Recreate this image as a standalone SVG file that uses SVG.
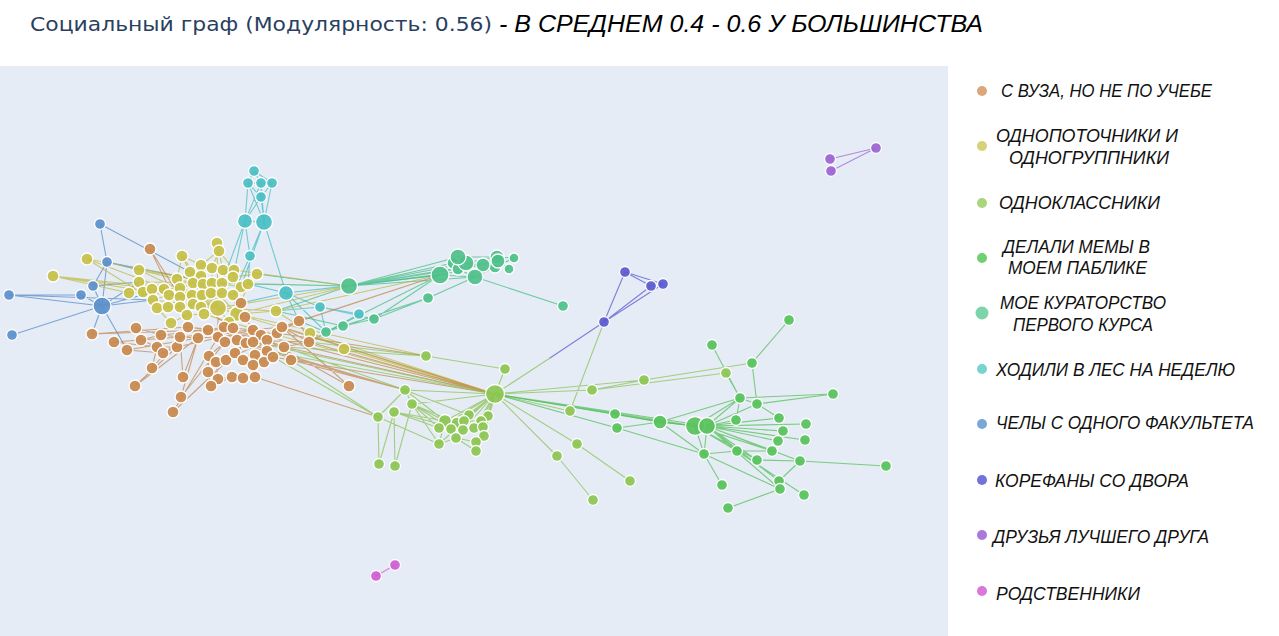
<svg xmlns="http://www.w3.org/2000/svg" width="1279" height="636" viewBox="0 0 1279 636">
<style>
.e{fill:none;stroke-width:1.1;stroke-opacity:.7;stroke-linecap:round}
.eb{stroke:#4f86c6}.ec{stroke:#40bcc0}.ek{stroke:#3dbb7e}.ey{stroke:#bdb639}.eo{stroke:#c18347}.el{stroke:#86c14c}.eg{stroke:#4cbd50}.ei{stroke:#5050cc}.ep{stroke:#9a5fd0}.em{stroke:#c95ac9}
.n circle{stroke:#fff;stroke-width:1.3;fill-opacity:.92}
.br{fill:#c9894e}.ye{fill:#c6c048}.lg{fill:#8cc552}.gr{fill:#57c25b}.ku{fill:#4fc08a}.cy{fill:#4bbfc3}.bl{fill:#5b8fcb}.in{fill:#5a5acf}.pu{fill:#9c63d3}.pi{fill:#cf5ccf}
.lt{font-family:"Liberation Sans",Arial,sans-serif;font-style:italic;font-size:18px;fill:#111}
</style>
<rect x="0" y="0" width="1279" height="636" fill="#fff"/>
<rect x="0" y="66" width="948" height="570" fill="#e5ecf6"/>
<text x="30" y="31" font-family="'DejaVu Sans','Open Sans',sans-serif" font-size="20" fill="#2a3f5f" textLength="462" lengthAdjust="spacingAndGlyphs">Социальный граф (Модулярность: 0.56)</text>
<text x="499" y="32" font-family="'Liberation Sans',Arial,sans-serif" font-style="italic" font-size="23" fill="#000" textLength="484" lengthAdjust="spacingAndGlyphs">- В СРЕДНЕМ 0.4 - 0.6 У БОЛЬШИНСТВА</text>

<g id="connectors">
<path class="e eb" d="M102,306L9,295M102,306L12,335M102,306L107,262M102,306L93,286M102,306L81,295M100,224L107,262M107,262L93,286M100,224L190,272M107,262L139,270M9,295L81,295M102,306L164,289M102,306L139,282M102,306L153,300M102,306L92,334M102,306L127,350M93,286L139,282M9,295L153,300M107,262L212,283"/>
<path class="e ec" d="M254,171L248,183M254,171L261,183M254,171L272,183M248,183L261,197M261,183L261,197M272,183L261,197M248,183L261,183M261,183L272,183M248,183L245,221M248,183L264,222M261,183L245,221M261,183L264,222M272,183L264,222M261,197L245,221M261,197L264,222M245,221L264,222M245,221L250,256M264,222L250,256M264,222L286,293M245,221L222,283M245,221L233,277M264,222L241,287M250,256L233,295M250,256L248,284M286,293L320,307M320,307L359,314M286,293L241,303M286,293L299,321M286,293L248,284M320,307L276,311M359,314L309,342M320,307L374,319M286,293L349,286M286,293L440,275M286,293L326,332M320,307L326,332"/>
<path class="e ek" d="M349,286L453,263M349,286L458,257M349,286L466,263M349,286L458,269M349,286L440,275M349,286L475,277M349,286L483,265M349,286L497,257M349,286L495,267M349,286L498,261M349,286L276,311M349,286L222,283M349,286L248,284M349,286L257,274M374,319L428,298M428,298L475,277M343,326L428,298M326,332L428,298M374,319L440,275M326,332L440,275M475,277L563,306M458,257L466,263M466,263L475,277M483,265L497,257M497,257L498,261M498,261L509,269M495,267L514,258M458,257L497,257M440,275L475,277M453,263L483,265M466,263L483,265M475,277L495,267M458,269L475,277M483,265L498,261M497,257L514,258M326,332L343,326M343,326L374,319M326,332L299,321M343,326L276,311"/>
<path class="e ey" d="M217,243L219,251M219,251L201,265M219,251L212,268M219,251L234,270M217,243L223,270M182,256L201,265M182,256L190,272M182,256L177,279M201,265L201,276M201,265L212,268M87,259L153,300M87,259L241,287M87,259L218,308M53,276L152,289M53,276L233,295M53,276L180,297M139,270L177,279M139,270L241,287M139,270L193,283M139,282L164,289M139,282L212,283M129,293L143,292M143,292L152,289M152,289L164,289M190,272L193,283M190,272L201,276M201,276L203,284M212,268L212,283M223,270L234,270M223,270L222,283M234,270L233,277M233,277L241,287M257,274L248,284M257,274L233,277M177,279L180,288M164,289L169,295M180,288L193,283M180,288L180,297M193,283L203,284M203,284L212,283M212,283L222,283M222,283L222,293M241,287L248,284M241,287L233,295M248,284L237,314M153,300L169,295M153,300L157,308M169,295L180,297M169,295L168,307M180,297L192,295M180,297L180,307M192,295L202,295M192,295L193,304M202,295L211,293M202,295L201,307M211,293L222,293M211,293L218,308M222,293L233,295M233,295L237,314M157,308L168,307M168,307L180,307M180,307L193,304M193,304L201,307M201,307L218,308M218,308L237,314M187,315L204,314M193,304L187,315M204,314L229,322M218,308L229,322M171,323L157,308M171,323L187,315M237,314L276,311M218,308L276,311M276,311L310,333M310,333L344,349M217,243L218,308M182,256L218,308M190,272L218,308M177,279L218,308M193,283L218,308M139,270L218,308M152,289L218,308M212,283L218,308M201,276L237,314M234,270L237,314M164,289L237,314M180,288L218,308M153,300L218,308M218,308L349,286M237,314L349,286M276,311L440,275M237,314L495,394M229,322L495,394M310,333L495,394M344,349L495,394M237,314L426,356M234,270L349,286M53,276L129,293"/>
<path class="e eo" d="M150,249L180,297M241,303L233,328M241,303L245,317M241,303L237,314M299,321L282,327M299,321L277,333M299,321L309,342M136,328L141,340M136,328L161,335M92,334L188,327M92,334L208,330M114,342L180,337M114,342L157,347M127,350L163,353M127,350L198,338M141,340L161,335M141,340L157,347M157,347L163,353M157,347L177,347M163,353L177,347M177,347L180,337M161,335L180,337M180,337L188,327M180,337L198,338M188,327L208,330M198,338L208,330M198,338L218,337M208,330L218,337M208,330L224,327M218,337L224,327M218,337L225,342M224,327L233,328M233,328L237,340M233,328L253,330M225,342L237,340M237,340L246,343M246,343L253,330M246,343L253,342M253,330L261,335M261,335L267,340M261,335L277,333M253,342L267,340M267,340L284,347M277,333L282,327M282,327L309,342M284,347L309,342M284,347L291,360M245,317L253,330M245,317L224,327M225,342L209,356M209,356L216,362M216,362L226,360M226,360L235,353M235,353L243,360M243,360L255,355M255,355L267,351M267,351L273,357M264,362L273,357M264,362L255,355M273,357L291,360M208,372L218,379M218,379L232,377M232,377L243,378M243,378L255,377M255,377L253,365M253,365L255,355M208,372L209,356M218,379L216,362M211,386L208,372M211,386L232,377M152,368L157,347M152,368L180,337M183,377L180,337M183,377L198,338M135,386L177,347M135,386L208,330M181,397L198,338M181,397L225,342M173,412L218,337M173,412L246,343M349,386L282,327M349,386L267,340M208,330L267,340M188,327L261,335M180,337L282,327M218,337L284,347M198,338L277,333M177,347L253,330M161,335L233,328M237,340L309,342M225,342L267,351M226,360L267,340M216,362L261,335M243,360L282,327M282,327L495,394M309,342L495,394M284,347L495,394M299,321L440,275M282,327L440,275M255,377L378,417M291,360L405,390M267,351L405,390M273,357L495,394M150,249L188,327M218,337L218,308M233,328L201,307M261,335L495,394M277,333L426,356M246,343L405,390"/>
<path class="e el" d="M426,356L284,347M426,356L505,369M505,369L495,394M495,394L405,390M405,390L378,417M405,390L412,404M394,412L379,464M394,412L395,466M412,404L395,466M378,417L379,464M291,360L378,417M284,347L405,390M309,342L426,356M273,357L378,417M412,404L495,394M495,394L592,390M495,394L644,380M495,394L570,411M495,394L577,444M495,394L557,456M577,444L630,481M557,456L593,500M592,390L726,373M644,380L752,363M592,390L644,380M495,394L445,421M495,394L439,428M495,394L451,429M495,394L439,444M495,394L456,438M495,394L469,415M495,394L464,421M495,394L488,416M495,394L481,421M495,394L463,430M495,394L474,428M495,394L483,427M495,394L476,442M495,394L484,436M495,394L476,451M495,394L457,423M412,404L445,421M412,404L439,428M412,404L457,423M412,404L451,429M412,404L439,444M394,412L445,421M394,412L439,428M405,390L445,421M378,417L439,444M394,412L463,430M405,390L469,415M445,421L457,423M439,428L451,429M451,429L463,430M439,444L456,438M456,438L476,442M469,415L464,421M464,421L481,421M481,421L488,416M474,428L483,427M476,442L484,436M476,451L476,442M457,423L464,421M463,430L474,428M445,421L439,444M456,438L476,451M484,436L483,427M451,429L456,438M570,411L604,322M267,351L495,394M253,342L495,394"/>
<path class="e eg" d="M789,320L752,363M712,345L740,398M726,373L740,398M752,363L757,404M740,398L707,426M740,398L695,426M740,398L736,420M740,398L757,404M757,404L779,418M757,404L707,426M740,398L660,422M740,398L833,394M757,404L833,394M707,426L736,420M707,426L779,418M707,426L806,424M707,426L783,431M707,426L778,441M707,426L805,440M707,426L772,451M707,426L737,451M707,426L757,460M707,426L800,461M707,426L779,481M707,426L780,489M707,426L704,454M695,426L660,422M695,426L704,454M695,426L737,451M695,426L772,451M695,426L757,460M660,422L615,414M660,422L617,428M660,422L704,454M617,428L704,454M704,454L722,485M704,454L780,489M704,454L737,451M800,461L886,466M800,461L779,481M780,489L728,508M804,495L737,451M772,451L737,451M757,460L800,461M495,394L615,414M495,394L617,428M495,394L695,426M495,394L707,426M615,414L695,426"/>
<path class="e eg" stroke-width="2.6" d="M495,394L660,422M660,422L695,426"/>
<path class="e ei" d="M625,272L651,286M625,272L663,284M651,286L663,284M604,322L625,272M604,322L651,286M604,322L663,284M604,322L550,358"/>
<path class="e el" d="M550,358L495,394"/>
<path class="e ep" d="M876,148L830,159M876,148L831,171"/>
<path class="e em" d="M395,565L376,576"/>
</g>

<g class="n">
<g id="blue-1"><circle class="bl" cx="100" cy="224" r="5.5"/></g>
<g id="blue-2"><circle class="bl" cx="107" cy="262" r="5.5"/></g>
<g id="blue-3"><circle class="bl" cx="93" cy="286" r="5.5"/></g>
<g id="blue-4"><circle class="bl" cx="81" cy="295" r="5.5"/></g>
<g id="blue-5"><circle class="bl" cx="9" cy="295" r="5.5"/></g>
<g id="blue-6"><circle class="bl" cx="102" cy="306" r="9"/></g>
<g id="blue-7"><circle class="bl" cx="12" cy="335" r="5.5"/></g>

<g id="cyan-1"><circle class="cy" cx="254" cy="171" r="5.5"/></g>
<g id="cyan-2"><circle class="cy" cx="248" cy="183" r="5.5"/></g>
<g id="cyan-3"><circle class="cy" cx="261" cy="183" r="5.5"/></g>
<g id="cyan-4"><circle class="cy" cx="272" cy="183" r="5.5"/></g>
<g id="cyan-5"><circle class="cy" cx="261" cy="197" r="5.5"/></g>
<g id="cyan-6"><circle class="cy" cx="245" cy="221" r="7.5"/></g>
<g id="cyan-7"><circle class="cy" cx="264" cy="222" r="8.5"/></g>
<g id="cyan-8"><circle class="cy" cx="250" cy="256" r="5.5"/></g>
<g id="cyan-9"><circle class="cy" cx="286" cy="293" r="7.5"/></g>
<g id="cyan-10"><circle class="cy" cx="320" cy="307" r="5.5"/></g>
<g id="cyan-11"><circle class="cy" cx="359" cy="314" r="5.5"/></g>

<g id="yel-1"><circle class="ye" cx="217" cy="243" r="6"/></g>
<g id="yel-2"><circle class="ye" cx="219" cy="251" r="6"/></g>
<g id="yel-3"><circle class="ye" cx="182" cy="256" r="6"/></g>
<g id="yel-4"><circle class="ye" cx="201" cy="265" r="6"/></g>
<g id="yel-5"><circle class="ye" cx="87" cy="259" r="6"/></g>
<g id="yel-6"><circle class="ye" cx="53" cy="276" r="6"/></g>
<g id="yel-7"><circle class="ye" cx="139" cy="270" r="6"/></g>
<g id="yel-8"><circle class="ye" cx="139" cy="282" r="6"/></g>
<g id="yel-9"><circle class="ye" cx="129" cy="293" r="6"/></g>
<g id="yel-10"><circle class="ye" cx="143" cy="292" r="6"/></g>
<g id="yel-11"><circle class="ye" cx="152" cy="289" r="6"/></g>
<g id="yel-12"><circle class="ye" cx="190" cy="272" r="6"/></g>
<g id="yel-13"><circle class="ye" cx="201" cy="276" r="6"/></g>
<g id="yel-14"><circle class="ye" cx="212" cy="268" r="6"/></g>
<g id="yel-15"><circle class="ye" cx="223" cy="270" r="6"/></g>
<g id="yel-16"><circle class="ye" cx="234" cy="270" r="6"/></g>
<g id="yel-17"><circle class="ye" cx="233" cy="277" r="6"/></g>
<g id="yel-18"><circle class="ye" cx="257" cy="274" r="6"/></g>
<g id="yel-19"><circle class="ye" cx="177" cy="279" r="6"/></g>
<g id="yel-20"><circle class="ye" cx="164" cy="289" r="6"/></g>
<g id="yel-21"><circle class="ye" cx="180" cy="288" r="6"/></g>
<g id="yel-22"><circle class="ye" cx="193" cy="283" r="6"/></g>
<g id="yel-23"><circle class="ye" cx="203" cy="284" r="6"/></g>
<g id="yel-24"><circle class="ye" cx="212" cy="283" r="6"/></g>
<g id="yel-25"><circle class="ye" cx="222" cy="283" r="6"/></g>
<g id="yel-26"><circle class="ye" cx="241" cy="287" r="6"/></g>
<g id="yel-27"><circle class="ye" cx="248" cy="284" r="6"/></g>
<g id="yel-28"><circle class="ye" cx="153" cy="300" r="6"/></g>
<g id="yel-29"><circle class="ye" cx="169" cy="295" r="6"/></g>
<g id="yel-30"><circle class="ye" cx="180" cy="297" r="6"/></g>
<g id="yel-31"><circle class="ye" cx="192" cy="295" r="6"/></g>
<g id="yel-32"><circle class="ye" cx="202" cy="295" r="6"/></g>
<g id="yel-33"><circle class="ye" cx="211" cy="293" r="6"/></g>
<g id="yel-34"><circle class="ye" cx="222" cy="293" r="6"/></g>
<g id="yel-35"><circle class="ye" cx="233" cy="295" r="6"/></g>
<g id="yel-36"><circle class="ye" cx="157" cy="308" r="6"/></g>
<g id="yel-37"><circle class="ye" cx="168" cy="307" r="6"/></g>
<g id="yel-38"><circle class="ye" cx="180" cy="307" r="6"/></g>
<g id="yel-39"><circle class="ye" cx="193" cy="304" r="6"/></g>
<g id="yel-40"><circle class="ye" cx="201" cy="307" r="6"/></g>
<g id="yel-41"><circle class="ye" cx="218" cy="308" r="8.5"/></g>
<g id="yel-42"><circle class="ye" cx="237" cy="314" r="7.5"/></g>
<g id="yel-43"><circle class="ye" cx="187" cy="315" r="6"/></g>
<g id="yel-44"><circle class="ye" cx="204" cy="314" r="6"/></g>
<g id="yel-45"><circle class="ye" cx="229" cy="322" r="6"/></g>
<g id="yel-46"><circle class="ye" cx="171" cy="323" r="6"/></g>
<g id="yel-47"><circle class="ye" cx="276" cy="311" r="6"/></g>
<g id="yel-48"><circle class="ye" cx="310" cy="333" r="6"/></g>
<g id="yel-49"><circle class="ye" cx="344" cy="349" r="6"/></g>

<g id="br-1"><circle class="br" cx="150" cy="249" r="6"/></g>
<g id="br-2"><circle class="br" cx="241" cy="303" r="6"/></g>
<g id="br-3"><circle class="br" cx="299" cy="321" r="6"/></g>
<g id="br-4"><circle class="br" cx="136" cy="328" r="6"/></g>
<g id="br-5"><circle class="br" cx="92" cy="334" r="6"/></g>
<g id="br-6"><circle class="br" cx="114" cy="342" r="6"/></g>
<g id="br-7"><circle class="br" cx="127" cy="350" r="6"/></g>
<g id="br-8"><circle class="br" cx="141" cy="340" r="6"/></g>
<g id="br-9"><circle class="br" cx="157" cy="347" r="6"/></g>
<g id="br-10"><circle class="br" cx="163" cy="353" r="6"/></g>
<g id="br-11"><circle class="br" cx="177" cy="347" r="6"/></g>
<g id="br-12"><circle class="br" cx="161" cy="335" r="6"/></g>
<g id="br-13"><circle class="br" cx="180" cy="337" r="6"/></g>
<g id="br-14"><circle class="br" cx="188" cy="327" r="6"/></g>
<g id="br-15"><circle class="br" cx="198" cy="338" r="6"/></g>
<g id="br-16"><circle class="br" cx="208" cy="330" r="6"/></g>
<g id="br-17"><circle class="br" cx="218" cy="337" r="6"/></g>
<g id="br-18"><circle class="br" cx="224" cy="327" r="6"/></g>
<g id="br-19"><circle class="br" cx="233" cy="328" r="6"/></g>
<g id="br-20"><circle class="br" cx="225" cy="342" r="6"/></g>
<g id="br-21"><circle class="br" cx="237" cy="340" r="6"/></g>
<g id="br-22"><circle class="br" cx="246" cy="343" r="6"/></g>
<g id="br-23"><circle class="br" cx="253" cy="330" r="6"/></g>
<g id="br-24"><circle class="br" cx="261" cy="335" r="6"/></g>
<g id="br-25"><circle class="br" cx="253" cy="342" r="6"/></g>
<g id="br-26"><circle class="br" cx="267" cy="340" r="6"/></g>
<g id="br-27"><circle class="br" cx="277" cy="333" r="6"/></g>
<g id="br-28"><circle class="br" cx="282" cy="327" r="6"/></g>
<g id="br-29"><circle class="br" cx="284" cy="347" r="6"/></g>
<g id="br-30"><circle class="br" cx="309" cy="342" r="6"/></g>
<g id="br-31"><circle class="br" cx="245" cy="317" r="6"/></g>
<g id="br-32"><circle class="br" cx="209" cy="356" r="6"/></g>
<g id="br-33"><circle class="br" cx="216" cy="362" r="6"/></g>
<g id="br-34"><circle class="br" cx="226" cy="360" r="6"/></g>
<g id="br-35"><circle class="br" cx="235" cy="353" r="6"/></g>
<g id="br-36"><circle class="br" cx="243" cy="360" r="6"/></g>
<g id="br-37"><circle class="br" cx="255" cy="355" r="6"/></g>
<g id="br-38"><circle class="br" cx="267" cy="351" r="6"/></g>
<g id="br-39"><circle class="br" cx="264" cy="362" r="6"/></g>
<g id="br-40"><circle class="br" cx="273" cy="357" r="6"/></g>
<g id="br-41"><circle class="br" cx="291" cy="360" r="6"/></g>
<g id="br-42"><circle class="br" cx="208" cy="372" r="6"/></g>
<g id="br-43"><circle class="br" cx="218" cy="379" r="6"/></g>
<g id="br-44"><circle class="br" cx="232" cy="377" r="6"/></g>
<g id="br-45"><circle class="br" cx="243" cy="378" r="6"/></g>
<g id="br-46"><circle class="br" cx="255" cy="377" r="6"/></g>
<g id="br-47"><circle class="br" cx="211" cy="386" r="6"/></g>
<g id="br-48"><circle class="br" cx="253" cy="365" r="6"/></g>
<g id="br-49"><circle class="br" cx="152" cy="368" r="6"/></g>
<g id="br-50"><circle class="br" cx="183" cy="377" r="6"/></g>
<g id="br-51"><circle class="br" cx="135" cy="386" r="6"/></g>
<g id="br-52"><circle class="br" cx="181" cy="397" r="6"/></g>
<g id="br-53"><circle class="br" cx="173" cy="412" r="6"/></g>
<g id="br-54"><circle class="br" cx="349" cy="386" r="6"/></g>

<g id="cur-1"><circle class="ku" cx="349" cy="286" r="8.5"/></g>
<g id="cur-2"><circle class="ku" cx="326" cy="332" r="5.5"/></g>
<g id="cur-3"><circle class="ku" cx="343" cy="326" r="5.5"/></g>
<g id="cur-4"><circle class="ku" cx="374" cy="319" r="5.5"/></g>
<g id="cur-5"><circle class="ku" cx="428" cy="298" r="5.5"/></g>
<g id="cur-6"><circle class="ku" cx="563" cy="306" r="5.5"/></g>
<g id="cur-7"><circle class="ku" cx="514" cy="258" r="5"/></g>
<g id="cur-8"><circle class="ku" cx="509" cy="269" r="5"/></g>
<g id="cur-9"><circle class="ku" cx="495" cy="267" r="6"/></g>
<g id="cur-10"><circle class="ku" cx="453" cy="263" r="6"/></g>
<g id="cur-11"><circle class="ku" cx="458" cy="269" r="6"/></g>
<g id="cur-12"><circle class="ku" cx="483" cy="265" r="7"/></g>
<g id="cur-13"><circle class="ku" cx="497" cy="257" r="7"/></g>
<g id="cur-14"><circle class="ku" cx="498" cy="261" r="7"/></g>
<g id="cur-15"><circle class="ku" cx="466" cy="263" r="8"/></g>
<g id="cur-16"><circle class="ku" cx="458" cy="257" r="8"/></g>
<g id="cur-17"><circle class="ku" cx="440" cy="275" r="9"/></g>
<g id="cur-18"><circle class="ku" cx="475" cy="277" r="8"/></g>

<g id="ind-1"><circle class="in" cx="625" cy="272" r="5.5"/></g>
<g id="ind-2"><circle class="in" cx="651" cy="286" r="5.5"/></g>
<g id="ind-3"><circle class="in" cx="663" cy="284" r="5.5"/></g>
<g id="ind-4"><circle class="in" cx="604" cy="322" r="5.5"/></g>

<g id="pur-1"><circle class="pu" cx="876" cy="148" r="5.5"/></g>
<g id="pur-2"><circle class="pu" cx="830" cy="159" r="5.5"/></g>
<g id="pur-3"><circle class="pu" cx="831" cy="171" r="5.5"/></g>

<g id="pink-1"><circle class="pi" cx="395" cy="565" r="5.5"/></g>
<g id="pink-2"><circle class="pi" cx="376" cy="576" r="5.5"/></g>

<g id="lg-hub"><circle class="lg" cx="495" cy="394" r="9.5"/></g>
<g id="lg-1"><circle class="lg" cx="426" cy="356" r="5.5"/></g>
<g id="lg-2"><circle class="lg" cx="505" cy="369" r="5.5"/></g>
<g id="lg-3"><circle class="lg" cx="405" cy="390" r="5.5"/></g>
<g id="lg-4"><circle class="lg" cx="412" cy="404" r="5.5"/></g>
<g id="lg-5"><circle class="lg" cx="394" cy="412" r="5.5"/></g>
<g id="lg-6"><circle class="lg" cx="378" cy="417" r="5.5"/></g>
<g id="lg-7"><circle class="lg" cx="379" cy="464" r="5.5"/></g>
<g id="lg-8"><circle class="lg" cx="395" cy="466" r="5.5"/></g>
<g id="lg-9"><circle class="lg" cx="592" cy="390" r="5.5"/></g>
<g id="lg-10"><circle class="lg" cx="644" cy="380" r="5.5"/></g>
<g id="lg-11"><circle class="lg" cx="570" cy="411" r="5.5"/></g>
<g id="lg-12"><circle class="lg" cx="577" cy="444" r="5.5"/></g>
<g id="lg-13"><circle class="lg" cx="557" cy="456" r="5.5"/></g>
<g id="lg-14"><circle class="lg" cx="630" cy="481" r="5.5"/></g>
<g id="lg-15"><circle class="lg" cx="593" cy="500" r="5.5"/></g>
<g id="lg-16"><circle class="lg" cx="726" cy="373" r="5.5"/></g>
<g id="lg-c1"><circle class="lg" cx="445" cy="421" r="6.5"/></g>
<g id="lg-c2"><circle class="lg" cx="457" cy="423" r="6"/></g>
<g id="lg-c3"><circle class="lg" cx="469" cy="415" r="5.5"/></g>
<g id="lg-c4"><circle class="lg" cx="488" cy="416" r="5.5"/></g>
<g id="lg-c5"><circle class="lg" cx="464" cy="421" r="5.5"/></g>
<g id="lg-c6"><circle class="lg" cx="481" cy="421" r="5.5"/></g>
<g id="lg-c7"><circle class="lg" cx="439" cy="428" r="5.5"/></g>
<g id="lg-c8"><circle class="lg" cx="451" cy="429" r="5.5"/></g>
<g id="lg-c9"><circle class="lg" cx="463" cy="430" r="5.5"/></g>
<g id="lg-c10"><circle class="lg" cx="474" cy="428" r="5.5"/></g>
<g id="lg-c11"><circle class="lg" cx="483" cy="427" r="5.5"/></g>
<g id="lg-c12"><circle class="lg" cx="456" cy="438" r="5.5"/></g>
<g id="lg-c13"><circle class="lg" cx="484" cy="436" r="5.5"/></g>
<g id="lg-c14"><circle class="lg" cx="439" cy="444" r="5.5"/></g>
<g id="lg-c15"><circle class="lg" cx="476" cy="442" r="5.5"/></g>
<g id="lg-c16"><circle class="lg" cx="476" cy="451" r="5.5"/></g>

<g id="gr-1"><circle class="gr" cx="789" cy="320" r="5.5"/></g>
<g id="gr-2"><circle class="gr" cx="712" cy="345" r="5.5"/></g>
<g id="gr-3"><circle class="gr" cx="752" cy="363" r="5.5"/></g>
<g id="gr-4"><circle class="gr" cx="615" cy="414" r="5.5"/></g>
<g id="gr-5"><circle class="gr" cx="617" cy="428" r="5.5"/></g>
<g id="gr-6"><circle class="gr" cx="660" cy="422" r="7"/></g>
<g id="gr-7"><circle class="gr" cx="695" cy="426" r="9.5"/></g>
<g id="gr-8"><circle class="gr" cx="707" cy="426" r="8.5"/></g>
<g id="gr-9"><circle class="gr" cx="740" cy="398" r="5.5"/></g>
<g id="gr-10"><circle class="gr" cx="757" cy="404" r="5.5"/></g>
<g id="gr-11"><circle class="gr" cx="736" cy="420" r="5.5"/></g>
<g id="gr-12"><circle class="gr" cx="779" cy="418" r="5.5"/></g>
<g id="gr-13"><circle class="gr" cx="806" cy="424" r="5.5"/></g>
<g id="gr-14"><circle class="gr" cx="783" cy="431" r="5.5"/></g>
<g id="gr-15"><circle class="gr" cx="778" cy="441" r="5.5"/></g>
<g id="gr-16"><circle class="gr" cx="805" cy="440" r="5.5"/></g>
<g id="gr-17"><circle class="gr" cx="772" cy="451" r="5.5"/></g>
<g id="gr-18"><circle class="gr" cx="737" cy="451" r="5.5"/></g>
<g id="gr-19"><circle class="gr" cx="704" cy="454" r="5.5"/></g>
<g id="gr-20"><circle class="gr" cx="757" cy="460" r="5.5"/></g>
<g id="gr-21"><circle class="gr" cx="800" cy="461" r="5.5"/></g>
<g id="gr-22"><circle class="gr" cx="833" cy="394" r="5.5"/></g>
<g id="gr-23"><circle class="gr" cx="886" cy="466" r="5.5"/></g>
<g id="gr-24"><circle class="gr" cx="722" cy="485" r="5.5"/></g>
<g id="gr-25"><circle class="gr" cx="779" cy="481" r="5.5"/></g>
<g id="gr-26"><circle class="gr" cx="780" cy="489" r="5.5"/></g>
<g id="gr-27"><circle class="gr" cx="804" cy="495" r="5.5"/></g>
<g id="gr-28"><circle class="gr" cx="728" cy="508" r="5.5"/></g>
</g>

<g id="legend">
<circle cx="982" cy="91" r="5" fill="#dba77b"/>
<text class="lt" x="1001" y="97" textLength="211" lengthAdjust="spacingAndGlyphs">С ВУЗА, НО НЕ ПО УЧЕБЕ</text>
<circle cx="982" cy="146" r="5" fill="#d6d275"/>
<text class="lt" x="996" y="142" textLength="182" lengthAdjust="spacingAndGlyphs">ОДНОПОТОЧНИКИ И</text>
<text class="lt" x="1009" y="164" textLength="160" lengthAdjust="spacingAndGlyphs">ОДНОГРУППНИКИ</text>
<circle cx="982" cy="203" r="5" fill="#a9d57b"/>
<text class="lt" x="999" y="209" textLength="161" lengthAdjust="spacingAndGlyphs">ОДНОКЛАССНИКИ</text>
<circle cx="982" cy="258" r="5" fill="#71cf72"/>
<text class="lt" x="1003" y="253" textLength="147" lengthAdjust="spacingAndGlyphs">ДЕЛАЛИ МЕМЫ В</text>
<text class="lt" x="1008" y="274" textLength="139" lengthAdjust="spacingAndGlyphs">МОЕМ ПАБЛИКЕ</text>
<circle cx="982" cy="313" r="6.5" fill="#7cd4a8"/>
<text class="lt" x="1000" y="309" textLength="166" lengthAdjust="spacingAndGlyphs">МОЕ КУРАТОРСТВО</text>
<text class="lt" x="1013" y="331" textLength="140" lengthAdjust="spacingAndGlyphs">ПЕРВОГО КУРСА</text>
<circle cx="982" cy="369" r="5" fill="#78d3d2"/>
<text class="lt" x="996" y="376" textLength="239" lengthAdjust="spacingAndGlyphs">ХОДИЛИ В ЛЕС НА НЕДЕЛЮ</text>
<circle cx="982" cy="424" r="5" fill="#78a7d8"/>
<text class="lt" x="996" y="429" textLength="258" lengthAdjust="spacingAndGlyphs">ЧЕЛЫ С ОДНОГО ФАКУЛЬТЕТА</text>
<circle cx="982" cy="480" r="5" fill="#7272d8"/>
<text class="lt" x="995" y="487" textLength="194" lengthAdjust="spacingAndGlyphs">КОРЕФАНЫ СО ДВОРА</text>
<circle cx="982" cy="535" r="5" fill="#a878dc"/>
<text class="lt" x="993" y="543" textLength="216" lengthAdjust="spacingAndGlyphs">ДРУЗЬЯ ЛУЧШЕГО ДРУГА</text>
<circle cx="982" cy="591" r="5" fill="#d878d8"/>
<text class="lt" x="996" y="600" textLength="144" lengthAdjust="spacingAndGlyphs">РОДСТВЕННИКИ</text>
</g>
</svg>
